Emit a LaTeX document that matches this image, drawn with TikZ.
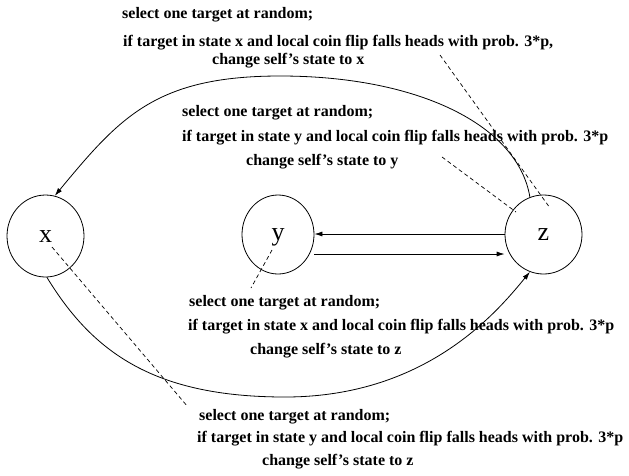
\documentclass[tikz,border=0pt]{standalone}
\usepackage{fontspec}
\setmainfont{Liberation Serif}
\usetikzlibrary{arrows.meta,shapes.geometric}
\tikzset{
  every picture/.style={line join=round, line cap=round, >={Latex[length=8pt,width=5pt]}},
  state/.style={draw, ellipse, inner sep=0pt, line width=0.8pt, text height=12pt, text depth=0pt,
    font=\fontsize{26}{30}\selectfont},
  note/.style={anchor=west, inner sep=0pt, font=\fontsize{16}{19}\selectfont\bfseries},
  link/.style={->, line width=0.8pt},
  pointer/.style={line width=0.7pt, dash pattern=on 4pt off 3pt, line cap=butt},
}

\begin{document}
\begin{tikzpicture}[x=1pt,y=-1pt]
\useasboundingbox (0,0) rectangle (629,475);
% states
\node[state, minimum width=77pt, minimum height=82pt] (x) at (45.5,236) {x};
\node[state, minimum width=72pt, minimum height=79pt] (y) at (278,234.5) {y};
\node[state, minimum width=77pt, minimum height=79pt] (z) at (543.5,234.5) {z};
% transitions
\coordinate (top) at (280,76);
\coordinate (bottom) at (285,397);
\draw[link] (z.110) .. controls (518,125) and (418,76) .. (top)
  .. controls (156,76) and (120,117) .. (x.77);
\draw[link] (x.-88) .. controls (93,353) and (155,397) .. (bottom)
  .. controls (425,397) and (496,313.5) .. (z.250);
\draw[link] (z.west |- 0,234) -- (y.east |- 0,234);
\draw[link] (y.east |- 0,254) -- (z.west |- 0,254);
% x <- z
\node[note] (sel1) at (122,15) {select one target at random;};
\node[note] (cond1) at (123,43) {if target in state x and local coin flip falls heads with prob. 3*p,};
\node[note] (chg1) at (212,61) {change self's state to x};
% y <- z
\node[note] (sel2) at (182,113) {select one target at random;};
\node[note] (cond2) at (182,138) {if target in state y and local coin flip falls heads with prob. 3*p};
\node[note] (chg2) at (246,162) {change self's state to y};
% z <- y
\node[note] (sel3) at (189,303) {select one target at random;};
\node[note] (cond3) at (188,327) {if target in state x and local coin flip falls heads with prob. 3*p};
\node[note] (chg3) at (250,351) {change self's state to z};
% z <- x
\node[note] (sel4) at (199,417) {select one target at random;};
\node[note] (cond4) at (197,439) {if target in state y and local coin flip falls heads with prob. 3*p};
\node[note] (chg4) at (262,462) {change self's state to z};
% pointers from the rules to the states
\coordinate (p1) at (440,55);
\coordinate (q1) at (550,208);
\coordinate (p2) at (442,157);
\coordinate (q2) at (516,212);
\coordinate (p3) at (272,250);
\coordinate (q3) at (251,288);
\coordinate (p4) at (52,247);
\coordinate (q4) at (188,407);
\draw[pointer] (p1) -- (q1);
\draw[pointer] (p2) -- (q2);
\draw[pointer] (p3) -- (q3);
\draw[pointer] (p4) -- (q4);
\end{tikzpicture}
\end{document}
